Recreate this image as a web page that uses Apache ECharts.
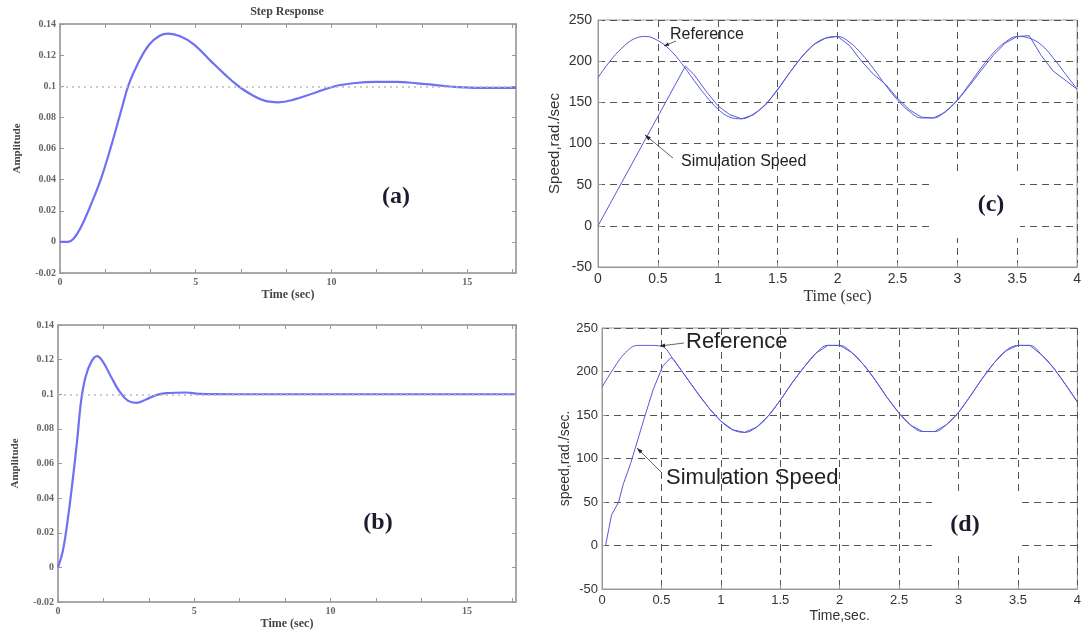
<!DOCTYPE html>
<html>
<head>
<meta charset="utf-8">
<script src="https://cdn.jsdelivr.net/npm/echarts@6/dist/echarts.min.js"></script>
<style>html,body{margin:0;padding:0;background:#fff;}#c{width:1084px;height:631px;}</style>
</head>
<body>
<div id="c"></div>
<script>
// ---- data ----
// (a) step response [time s, amplitude]
const stepA = [[0,0],[0.3,0],[0.5,0.002],[0.76,0.009],[1.14,0.024],[1.52,0.041],[1.9,0.0625],[2.28,0.086],[2.53,0.101],[2.91,0.116],[3.29,0.1268],[3.67,0.1325],[3.99,0.1338],[4.43,0.1321],[4.94,0.1268],[5.57,0.116],[6.08,0.1075],[6.58,0.1],[7.09,0.0942],[7.59,0.0904],[8.04,0.0897],[8.61,0.0914],[9.37,0.0957],[10.13,0.1],[10.89,0.1021],[11.65,0.1028],[12.41,0.1028],[13.16,0.1019],[13.92,0.1006],[14.68,0.0994],[15.44,0.0989],[16.8,0.0989]];
// (b) step response [time s, amplitude]
const stepB = [[0,0],[0.18,0.0097],[0.37,0.029],[0.55,0.052],[0.7,0.073],[0.85,0.0965],[1.01,0.11],[1.22,0.1187],[1.43,0.122],[1.65,0.1187],[1.95,0.11],[2.26,0.1015],[2.56,0.0963],[2.87,0.095],[3.23,0.097],[3.6,0.0995],[3.96,0.1006],[4.7,0.101],[5.18,0.1002],[6.6,0.1],[16.8,0.1]];
const finalValue = 0.1;
// (c),(d) sample times (s)
const sampleTimes = [0,0.1,0.2,0.3,0.4,0.5,0.6,0.7,0.8,0.9,1.0,1.1,1.2,1.3,1.4,1.5,1.6,1.7,1.8,1.9,2.0,2.1,2.2,2.3,2.4,2.5,2.6,2.7,2.8,2.9,3.0,3.1,3.2,3.3,3.4,3.5,3.6,3.7,3.8,3.9,4.0];
// (c) reference speed (rad/s)
const refC = [180,200,216,227,230,225,214,197,177,158,142,132,130,136,148,166,186,205,220,228,230,223,209,191,171,153,139,131,131,139,153,172,192,210,223,230,228,220,204,185,166];
// (c) simulation speed [time s, rad/s]
const simC = [[0,0],[0.73,194],[0.8,184],[0.9,164],[1.0,146],[1.1,135],[1.2,130],[1.3,135],[1.4,147],[1.5,165],[1.6,186],[1.7,205],[1.8,220],[1.9,228],[2.0,230],[2.1,219],[2.2,200],[2.3,184],[2.4,172],[2.5,155],[2.6,141],[2.7,132],[2.8,131],[2.9,138],[3.0,152],[3.1,170],[3.2,189],[3.3,207],[3.4,222],[3.5,230],[3.6,231],[3.7,207],[3.8,188],[3.9,177],[4.0,166]];
// (d) reference speed (rad/s)
const refD = [182,204,222,230,230,229,214,195,176,158,143,133,130,136,149,167,187,205,221,230,230,222,208,190,170,152,138,131,131,139,153,172,192,210,224,230,230,219,204,185,165];
// (d) simulation speed start-up [time s, rad/s]; afterwards it follows the reference
const simDStart = [[0.03,0],[0.06,21],[0.08,35],[0.14,50],[0.18,71],[0.24,94],[0.28,112],[0.35,144],[0.43,179],[0.51,206],[0.58,216]];
// tick labels
const stepXTicks = [0,5,10,15];
const speedXTicks = ['0','0.5','1','1.5','2','2.5','3','3.5','4'];

const refCPairs = sampleTimes.map((t,i)=>[t,refC[i]]);
const refDPairs = sampleTimes.map((t,i)=>[t,refD[i]]);
const simD = simDStart.concat(refDPairs.filter(p=>p[0]>=0.6));

const serifB = '"Liberation Serif","DejaVu Serif",serif';
const sans = '"Liberation Sans",Arial,sans-serif';
const chart = echarts.init(document.getElementById('c'), null, {renderer:'canvas'});

function stepX(grid, pos, name){
  return {type:'value', gridIndex:grid, position:pos, min:0, max:16.8, interval:5/3,
    axisLine:{show:true,onZero:false,lineStyle:{color:'#aaa',width:2}},
    axisTick:{show:true,inside:true,length:4,lineStyle:{color:'#999',width:1}},
    splitLine:{show:false},
    axisLabel:{show:pos==='bottom', margin:4, showMaxLabel:false, color:'#666', fontFamily:serifB, fontWeight:'bold', fontSize:10,
      formatter:v=>{const k=stepXTicks.find(t=>Math.abs(t-v)<1e-6);return k===undefined?'':String(k);}},
    name:name||'', nameLocation:'middle', nameGap:16,
    nameTextStyle:{color:'#444',fontFamily:serifB,fontWeight:'bold',fontSize:12}};
}
function stepY(grid, pos, name){
  return {type:'value', gridIndex:grid, position:pos, min:-0.02, max:0.14, interval:0.02,
    axisLine:{show:true,onZero:false,lineStyle:{color:'#aaa',width:2}},
    axisTick:{show:true,inside:true,length:4,lineStyle:{color:'#999',width:1}},
    splitLine:{show:false},
    axisLabel:{show:pos==='left', margin:4, color:'#666', fontFamily:serifB, fontWeight:'bold', fontSize:10,
      formatter:v=>String(parseFloat(v.toFixed(2)))},
    name:name||'', nameLocation:'middle', nameGap:37, nameRotate:90,
    nameTextStyle:{color:'#444',fontFamily:serifB,fontWeight:'bold',fontSize:11}};
}
function speedX(grid, name, nameFont, nameSize, gap, labelSize, margin){
  return {type:'value', gridIndex:grid, position:'bottom', min:0, max:4, interval:0.5,
    axisLine:{show:true,onZero:false,lineStyle:{color:'#999',width:1}},
    axisTick:{show:true,inside:true,length:4,lineStyle:{color:'#999'}},
    splitLine:{show:true,lineStyle:{color:'#555',type:[7,5],width:1}},
    axisLabel:{margin:margin, color:'#333', fontFamily:sans, fontSize:labelSize,
      formatter:v=>{const s=speedXTicks.find(t=>Math.abs(parseFloat(t)-v)<1e-6);return s===undefined?'':s;}},
    name:name, nameLocation:'middle', nameGap:gap,
    nameTextStyle:{color:'#333',fontFamily:nameFont,fontSize:nameSize}};
}
function speedY(grid, name, nameSize, gap, labelSize, margin){
  return {type:'value', gridIndex:grid, position:'left', min:-50, max:250, interval:50,
    axisLine:{show:true,onZero:false,lineStyle:{color:'#999',width:1}},
    axisTick:{show:true,inside:true,length:4,lineStyle:{color:'#999'}},
    splitLine:{show:true,lineStyle:{color:'#555',type:[7,5],width:1}},
    axisLabel:{margin:margin, color:'#333', fontFamily:sans, fontSize:labelSize},
    name:name, nameLocation:'middle', nameGap:gap, nameRotate:90,
    nameTextStyle:{color:'#333',fontFamily:sans,fontSize:nameSize}};
}

const blue = '#7070f4';
const blueThin = '#5858d8';
const dottedFinal = {silent:true, symbol:['none','none'], label:{show:false},
  lineStyle:{color:'#bbb',type:[2,4],width:1.5}, data:[{yAxis:finalValue}]};

function label(txt,x,y){
  return {type:'text', x:x, y:y, z:100, style:{text:txt, font:'bold 24px '+serifB, fill:'#1c1c30',
    align:'center', verticalAlign:'middle', shadowColor:'rgba(235,140,40,0.9)', shadowBlur:3}};
}
function cover(x,y,w,h){
  return {type:'rect', z:50, shape:{x:x,y:y,width:w,height:h}, style:{fill:'#fff'}};
}
function note(txt,x,y,size){
  return {type:'text', x:x, y:y, z:100, style:{text:txt, font:size+'px '+sans, fill:'#222',
    align:'left', verticalAlign:'middle'}};
}
function arrow(x1,y1,x2,y2,head){
  return [{type:'line', z:99, shape:{x1:x1,y1:y1,x2:x2,y2:y2}, style:{stroke:'#666',lineWidth:1}},
          {type:'polygon', z:99, shape:{points:head}, style:{fill:'#222'}}];
}

chart.setOption({
  backgroundColor:'#fff',
  animation:false,
  grid:[
    {left:60, top:24, width:456, height:249},
    {left:58, top:325, width:458, height:277},
    {left:598, top:20, width:480, height:247, show:true, borderColor:'#999', borderWidth:1},
    {left:602, top:328, width:481, height:261, show:true, borderColor:'#999', borderWidth:1}
  ],
  xAxis:[
    stepX(0,'bottom','Time (sec)'), stepX(0,'top'),
    stepX(1,'bottom','Time (sec)'), stepX(1,'top'),
    speedX(2,'Time (sec)',serifB,16,22,14,5),
    speedX(3,'Time,sec.',sans,14,20,13,5)
  ],
  yAxis:[
    stepY(0,'left','Amplitude'), stepY(0,'right'),
    stepY(1,'left','Amplitude'), stepY(1,'right'),
    speedY(2,'Speed,rad./sec',15,36,14,6),
    speedY(3,'speed,rad./sec.',14,30,13,4)
  ],
  series:[
    {type:'line', name:'Step (a)', xAxisIndex:0, yAxisIndex:0, data:stepA, smooth:0.4, showSymbol:false,
      lineStyle:{color:blue,width:2.2}, markLine:dottedFinal},
    {type:'line', name:'Step (b)', xAxisIndex:2, yAxisIndex:2, data:stepB, smooth:0.4, showSymbol:false,
      lineStyle:{color:blue,width:2.2}, markLine:dottedFinal},
    {type:'line', name:'Reference (c)', xAxisIndex:4, yAxisIndex:4, data:refCPairs, smooth:0.4, showSymbol:false,
      lineStyle:{color:blueThin,width:1}},
    {type:'line', name:'Simulation Speed (c)', xAxisIndex:4, yAxisIndex:4, data:simC, smooth:false, showSymbol:false,
      lineStyle:{color:blueThin,width:1}},
    {type:'line', name:'Reference (d)', xAxisIndex:5, yAxisIndex:5, data:refDPairs, smooth:0.4, showSymbol:false,
      lineStyle:{color:blueThin,width:1}},
    {type:'line', name:'Simulation Speed (d)', xAxisIndex:5, yAxisIndex:5, data:simD, smooth:false, showSymbol:false,
      lineStyle:{color:blueThin,width:1}}
  ],
  graphic:[
    {type:'text', x:287, y:12, style:{text:'Step Response', font:'bold 12px '+serifB, fill:'#444', align:'center', verticalAlign:'middle'}},
    cover(932,176,88,62), cover(932,492,88,64),
    label('(a)',396,197), label('(b)',378,523), label('(c)',991,205), label('(d)',965,525),
    note('Reference',670,35,16), note('Simulation Speed',681,162,16),
    note('Reference',686,342,22), note('Simulation Speed',666,478,22),
    ...arrow(676,41,664,46,[[664,46],[667.9,42.4],[669.3,45.8]]),
    ...arrow(673,158,645,135,[[645,135],[650.9,137.3],[648.3,140.4]]),
    ...arrow(684,343,660,346,[[660,346],[664.8,343.6],[665.2,347.2]]),
    ...arrow(661,472,637,448,[[637,448],[642.6,450.8],[639.8,453.6]])
  ]
});
</script>
</body>
</html>
